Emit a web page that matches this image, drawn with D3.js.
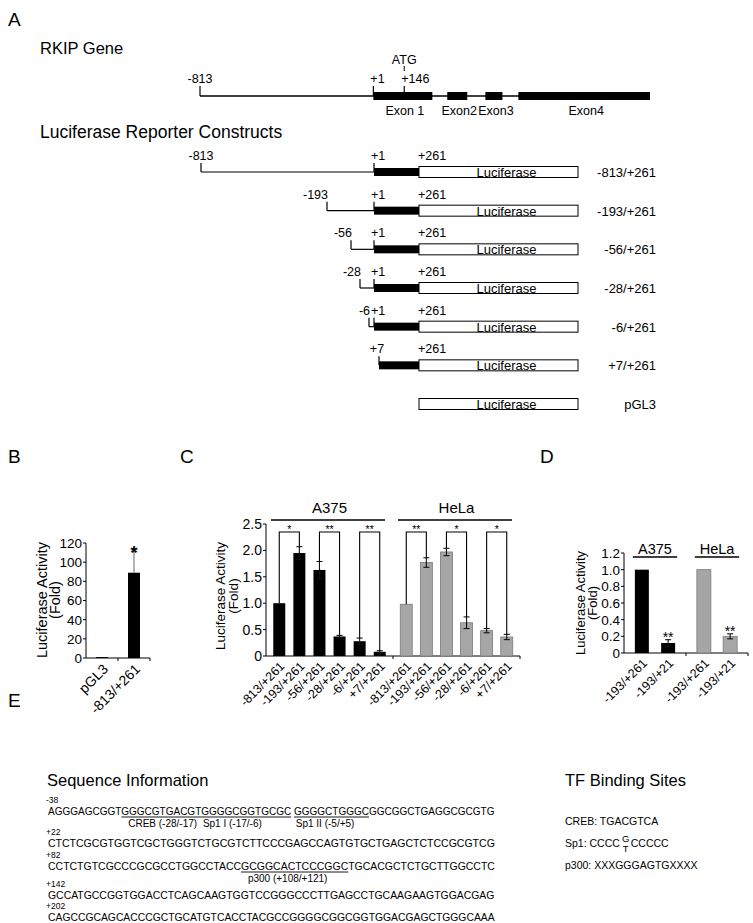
<!DOCTYPE html>
<html><head><meta charset="utf-8">
<script src="https://cdn.jsdelivr.net/npm/d3@7"></script>
<style>body{margin:0;background:#fff} svg{display:block;font-family:"Liberation Sans",Arial,sans-serif}</style>
</head><body><div id="chart"></div>
<script>
// ---------------- DATA ----------------
const geneExons = [
  {name:"Exon 1", start:1, end:278},
  {name:"Exon2", start:348, end:442},
  {name:"Exon3", start:527, end:607},
  {name:"Exon4", start:682, end:1300}
];
const geneMarks = [{label:"-813", pos:-813}, {label:"+1", pos:1}, {label:"+146", pos:146}];
const atgPos = 146;
const constructStarts = [-813, -193, -56, -28, -6, 7, null];
const constructNames = ["-813/+261","-193/+261","-56/+261","-28/+261","-6/+261","+7/+261","pGL3"];
const constructEnd = 261;
const luciferaseLength = 1650;

const bCategories = ["pGL3", "-813/+261"];
const bValues = [1, 89];
const bErrors = [0, 22];
const bSig = ["", "*"];
const bTicks = [0, 20, 40, 60, 80, 100, 120];

const cCategories = ["-813/+261","-193/+261","-56/+261","-28/+261","-6/+261","+7/+261"];
const cGroups = ["A375", "HeLa"];
const cA375 = [1.0, 1.95, 1.63, 0.37, 0.28, 0.08];
const cA375Err = [0, 0.12, 0.16, 0.02, 0.06, 0.02];
const cHeLa = [0.98, 1.77, 1.97, 0.63, 0.48, 0.36];
const cHeLaErr = [0, 0.09, 0.07, 0.11, 0.04, 0.05];
const cBrackets = [[0,1],[2,3],[4,5]];
const cSigA375 = ["*", "**", "**"];
const cSigHeLa = ["**", "*", "*"];
const cTicks = [0, 0.5, 1.0, 1.5, 2.0, 2.5];
const cTickLabels = ["0", "0.5", "1.0", "1.5", "2.0", "2.5"];

const dCategories = ["-193/+261", "-193/+21"];
const dGroups = ["A375", "HeLa"];
const dA375 = [1.0, 0.12];
const dA375Err = [0, 0.04];
const dHeLa = [1.0, 0.20];
const dHeLaErr = [0, 0.03];
const dSig = ["", "**"];
const dTicks = [0, 0.2, 0.4, 0.6, 0.8, 1.0, 1.2];
const dTickLabels = ["0", "0.2", "0.4", "0.6", "0.8", "1.0", "1.2"];

const seqStarts = ["-38", "+22", "+82", "+142", "+202"];
const seqLines = [
  "AGGGAGCGGTGGGCGTGACGTGGGGCGGTGCGC GGGGCTGGGCGGCGGCTGAGGCGCGTG",
  "CTCTCGCGTGGTCGCTGGGTCTGCGTCTTCCCGAGCCAGTGTGCTGAGCTCTCCGCGTCG",
  "CCTCTGTCGCCCGCGCCTGGCCTACCGCGGCACTCCCGGCTGCACGCTCTGCTTGGCCTC",
  "GCCATGCCGGTGGACCTCAGCAAGTGGTCCGGGCCCTTGAGCCTGCAAGAAGTGGACGAG",
  "CAGCCGCAGCACCCGCTGCATGTCACCTACGCCGGGGCGGCGGTGGACGAGCTGGGCAAA"
];
// underlined stretches: line index, first char, end char (exclusive)
const seqUnderlines = [{line:0, from:10, to:33}, {line:0, from:34, to:44}, {line:2, from:26, to:40}];
// site labels: line index, char centre, text
const seqSiteLabels = [
  {line:0, at:15.5, text:"CREB (-28/-17)"},
  {line:0, at:25, text:"Sp1 I (-17/-6)"},
  {line:0, at:38, text:"Sp1 II (-5/+5)"},
  {line:2, at:32, text:"p300 (+108/+121)"}
];
const tfSites = [
  {name:"CREB", seq:"TGACGTCA"},
  {name:"Sp1", seq:["CCCC ", "G", "T", "CCCCC"]},
  {name:"p300", seq:"XXXGGGAGTGXXXX"}
];

// ---------------- DRAWING ----------------
const W = 753, H = 923;
const svg = d3.select("#chart").append("svg").attr("width", W).attr("height", H);
svg.append("rect").attr("width", W).attr("height", H).attr("fill", "#fff");
const txt = (x, y, s, size, anchor) => svg.append("text").attr("x", x).attr("y", y)
  .attr("font-size", size).attr("text-anchor", anchor || "start").attr("fill", "#000").text(s);

// panel letters
[["A",8,26],["B",8,463],["C",180,463],["D",540,463],["E",8,707]].forEach(p => txt(p[1], p[2], p[0], 19));

// ---- Panel A: gene ----
txt(40, 54, "RKIP Gene", 16.5);
const gx = d3.scaleLinear().domain([-813, 1300]).range([200, 650]);
const gy = 96;
svg.append("line").attr("x1", gx(-813)).attr("x2", gx(1300)).attr("y1", gy).attr("y2", gy).attr("stroke", "#000").attr("stroke-width", 1.3);
svg.selectAll(".exon").data(geneExons).enter().append("rect")
  .attr("x", d => gx(d.start)).attr("width", d => gx(d.end) - gx(d.start))
  .attr("y", gy - 4).attr("height", 8).attr("fill", "#000");
svg.selectAll(".exonlab").data(geneExons).enter().append("text")
  .attr("x", d => (gx(d.start) + gx(d.end)) / 2 + 2).attr("y", gy + 19).attr("font-size", 12.5)
  .attr("text-anchor", "middle").text(d => d.name);
geneMarks.forEach(m => {
  svg.append("line").attr("x1", gx(m.pos)).attr("x2", gx(m.pos)).attr("y1", gy - 10).attr("y2", gy).attr("stroke", "#000").attr("stroke-width", 1.2);
  const anchor = m.pos === -813 ? "middle" : "start";
  txt(gx(m.pos) + (m.pos === -813 ? 0 : -3), gy - 13, m.label, 12.5, anchor);
});
svg.append("line").attr("x1", gx(atgPos)).attr("x2", gx(atgPos)).attr("y1", gy - 25).attr("y2", gy - 30).attr("stroke", "#000");
txt(gx(atgPos), gy - 32, "ATG", 12.5, "middle");

// ---- Panel A: constructs ----
txt(40, 138, "Luciferase Reporter Constructs", 17.5);
const kx = d3.scaleLinear()
  .domain([-813, -193, -56, -28, -6, 1, 7, constructEnd, constructEnd + luciferaseLength])
  .range([201, 327, 351, 360, 369, 374, 379, 419, 578]);
const ky = d3.scalePoint().domain(constructNames).range([172, 404]);
constructNames.forEach((name, i) => {
  const s = constructStarts[i], y = ky(name);
  const g = svg.append("g");
  const vline = (x, y1, y2) => g.append("line").attr("x1", x).attr("x2", x).attr("y1", y1).attr("y2", y2).attr("stroke", "#000").attr("stroke-width", 1.2);
  if (s !== null) {
    if (s < 1) {
      g.append("line").attr("x1", kx(s)).attr("x2", kx(1)).attr("y1", y).attr("y2", y).attr("stroke", "#000").attr("stroke-width", 1.2);
      vline(kx(s), y - 9, y);
      vline(kx(1), y - 9, y);
      g.append("rect").attr("x", kx(1)).attr("width", kx(constructEnd) - kx(1)).attr("y", y - 4).attr("height", 8).attr("fill", "#000");
      if (s === -813) txt(kx(s), y - 12, "-813", 12.5, "middle");
      else txt(kx(s) + 1, y - 12, String(s), 12.5, "end");
      txt(kx(1) - 3, y - 12, "+1", 12.5, "start");
    } else {
      vline(kx(s), y - 9, y);
      g.append("rect").attr("x", kx(s)).attr("width", kx(constructEnd) - kx(s)).attr("y", y - 4).attr("height", 8).attr("fill", "#000");
      txt(kx(s) - 2, y - 12, "+" + s, 12.5, "middle");
    }
    txt(kx(constructEnd) - 1, y - 12, "+" + constructEnd, 12.5, "start");
  }
  g.append("rect").attr("x", kx(constructEnd)).attr("width", kx(constructEnd + luciferaseLength) - kx(constructEnd))
    .attr("y", y - 5.5).attr("height", 11).attr("fill", "#fff").attr("stroke", "#000").attr("stroke-width", 1);
  txt((kx(constructEnd) + kx(constructEnd + luciferaseLength)) / 2 + 8, y + 5, "Luciferase", 13, "middle");
  txt(656, y + 5, name, 13, "end");
});

// ---- helpers for bar panels ----
function yAxis(yScale, x, ticks, labels, fs) {
  svg.append("line").attr("x1", x).attr("x2", x).attr("y1", yScale(ticks[ticks.length - 1])).attr("y2", yScale(0)).attr("stroke", "#000");
  ticks.forEach((t, i) => {
    svg.append("line").attr("x1", x - 3).attr("x2", x).attr("y1", yScale(t)).attr("y2", yScale(t)).attr("stroke", "#000");
    txt(x - 4, yScale(t) + fs * 0.36, labels[i], fs, "end");
  });
}
function yTitle(cx, cy, fs, gap) {
  const t = svg.append("text").attr("transform", `translate(${cx},${cy}) rotate(-90)`).attr("font-size", fs).attr("text-anchor", "middle");
  t.append("tspan").attr("x", 0).attr("y", 0).text("Luciferase Activity");
  t.append("tspan").attr("x", 0).attr("y", gap).text("(Fold)");
}
function xLabel(x, y, s, fs) {
  svg.append("text").attr("transform", `translate(${x},${y}) rotate(-45)`).attr("font-size", fs).attr("text-anchor", "end").text(s);
}
function errBar(x, y0, y1, cap, color) {
  const g = svg.append("g").attr("stroke", color).attr("stroke-width", 1.1);
  g.append("line").attr("x1", x).attr("x2", x).attr("y1", y1).attr("y2", y0);
  g.append("line").attr("x1", x - cap).attr("x2", x + cap).attr("y1", y1).attr("y2", y1);
  return g;
}

// ---- Panel B ----
{
  const y = d3.scaleLinear().domain([0, 120]).range([658, 543]);
  const x = d3.scalePoint().domain(bCategories).range([86, 150]).padding(0.5);
  const bw = 12;
  svg.append("line").attr("x1", 86).attr("x2", 150).attr("y1", y(0)).attr("y2", y(0)).attr("stroke", "#000");
  [118, 150].forEach(sx => svg.append("line").attr("x1", sx).attr("x2", sx).attr("y1", y(0)).attr("y2", y(0) + 3).attr("stroke", "#000"));
  bCategories.forEach((c, i) => {
    svg.append("rect").attr("x", x(c) - bw / 2).attr("width", bw).attr("y", y(bValues[i])).attr("height", y(0) - y(bValues[i])).attr("fill", "#000");
    if (bErrors[i] > 0) errBar(x(c), y(bValues[i]), y(bValues[i] + bErrors[i]), 3, "#777");
    if (bSig[i]) txt(x(c), y(bValues[i] + bErrors[i]) + 7, bSig[i], 18, "middle").attr("font-weight", "bold");
    xLabel(x(c) + 7, y(0) + 12, c, 14);
  });
  yAxis(y, 86, bTicks, bTicks.map(String), 13.5);
  yTitle(47, 600, 14.5, 13);
}

// ---- Panel C ----
{
  const y = d3.scaleLinear().domain([0, 2.5]).range([656, 524]);
  const gxs = d3.scaleBand().domain(cGroups).range([266, 520]);
  const ix = d3.scalePoint().domain(cCategories).range([0, gxs.bandwidth()]).padding(0.66);
  const bw = 12;
  svg.append("line").attr("x1", 266).attr("x2", 520).attr("y1", y(0)).attr("y2", y(0)).attr("stroke", "#000");
  cGroups.forEach(gname => {
    const gx0 = gxs(gname);
    const vals = gname === "A375" ? cA375 : cHeLa;
    const errs = gname === "A375" ? cA375Err : cHeLaErr;
    const sig = gname === "A375" ? cSigA375 : cSigHeLa;
    const fill = gname === "A375" ? "#000" : "#a6a6a6";
    svg.append("line").attr("x1", gx0 + gxs.bandwidth()).attr("x2", gx0 + gxs.bandwidth()).attr("y1", y(0)).attr("y2", y(0) + 3).attr("stroke", "#000");
    cCategories.forEach((c, i) => {
      const cx = gx0 + ix(c);
      svg.append("rect").attr("x", cx - bw / 2).attr("width", bw).attr("y", y(vals[i])).attr("height", y(0) - y(vals[i]))
        .attr("fill", fill).attr("stroke", gname === "A375" ? "none" : "#7a7a7a").attr("stroke-width", 0.8);
      if (errs[i] > 0) {
        const g = svg.append("g").attr("stroke", "#111").attr("stroke-width", 1.1);
        g.append("line").attr("x1", cx).attr("x2", cx).attr("y1", y(vals[i] - errs[i])).attr("y2", y(vals[i] + errs[i]));
        [vals[i] - errs[i], vals[i] + errs[i]].forEach(v => g.append("line").attr("x1", cx - 3).attr("x2", cx + 3).attr("y1", y(v)).attr("y2", y(v)));
      }
      xLabel(cx + 6, y(0) + 11, c, 12.5);
    });
    const top = 532;
    cBrackets.forEach((b, k) => {
      const xa = gx0 + ix(cCategories[b[0]]), xb = gx0 + ix(cCategories[b[1]]);
      const ya = y(vals[b[0]] + errs[b[0]]), yb = y(vals[b[1]] + errs[b[1]]);
      svg.append("path").attr("d", `M${xa},${ya} V${top} H${xb} V${yb}`).attr("fill", "none").attr("stroke", "#000").attr("stroke-width", 1.1);
      txt((xa + xb) / 2, top + 1, sig[k], 10.5, "middle");
    });
    svg.append("line").attr("x1", gx0 + 5).attr("x2", gx0 + gxs.bandwidth() - 8).attr("y1", 520).attr("y2", 520).attr("stroke", "#000").attr("stroke-width", 1.6);
    txt(gx0 + gxs.bandwidth() / 2, 513, gname, 15, "middle");
  });
  yAxis(y, 266, cTicks, cTickLabels, 14);
  yTitle(225, 596, 13.5, 12.5);
}

// ---- Panel D ----
{
  const y = d3.scaleLinear().domain([0, 1.2]).range([653, 553]);
  const gxs = d3.scaleBand().domain(dGroups).range([624, 748]);
  const ix = d3.scalePoint().domain(dCategories).range([0, gxs.bandwidth()]).padding(0.68);
  const bw = 14;
  svg.append("line").attr("x1", 624).attr("x2", 748).attr("y1", y(0)).attr("y2", y(0)).attr("stroke", "#000");
  dGroups.forEach(gname => {
    const gx0 = gxs(gname);
    const vals = gname === "A375" ? dA375 : dHeLa;
    const errs = gname === "A375" ? dA375Err : dHeLaErr;
    const fill = gname === "A375" ? "#000" : "#a6a6a6";
    svg.append("line").attr("x1", gx0 + gxs.bandwidth()).attr("x2", gx0 + gxs.bandwidth()).attr("y1", y(0)).attr("y2", y(0) + 3).attr("stroke", "#000");
    dCategories.forEach((c, i) => {
      const cx = gx0 + ix(c);
      svg.append("rect").attr("x", cx - bw / 2).attr("width", bw).attr("y", y(vals[i])).attr("height", y(0) - y(vals[i]))
        .attr("fill", fill).attr("stroke", gname === "A375" ? "none" : "#7a7a7a").attr("stroke-width", 0.8);
      if (errs[i] > 0) {
        const g = svg.append("g").attr("stroke", "#111").attr("stroke-width", 1.1);
        g.append("line").attr("x1", cx).attr("x2", cx).attr("y1", y(vals[i] - errs[i])).attr("y2", y(vals[i] + errs[i]));
        [vals[i] - errs[i], vals[i] + errs[i]].forEach(v => g.append("line").attr("x1", cx - 3).attr("x2", cx + 3).attr("y1", y(v)).attr("y2", y(v)));
      }
      if (dSig[i]) txt(cx, y(vals[i] + errs[i]) + 2, dSig[i], 14, "middle");
      xLabel(cx + 6, y(0) + 11, c, 12.5);
    });
    const bx0 = gx0 + ix(dCategories[0]) - bw / 2 - 2, bx1 = gx0 + ix(dCategories[1]) + bw / 2 + 2;
    svg.append("line").attr("x1", bx0).attr("x2", bx1).attr("y1", 557).attr("y2", 557).attr("stroke", "#000").attr("stroke-width", 1.6);
    txt((bx0 + bx1) / 2, 554, gname, 14.5, "middle");
  });
  yAxis(y, 624, dTicks, dTickLabels, 13.5);
  yTitle(585, 603, 13, 12);
}

// ---- Panel E ----
txt(47, 786, "Sequence Information", 16.5);
txt(565, 786, "TF Binding Sites", 16.5);
const seqBase = [815, 847, 870, 899, 921];
const seqWidth = 447, seqX = 48;
seqLines.forEach((s, li) => {
  txt(seqX - 2, seqBase[li] - 12.3, seqStarts[li], 8.5);
  const g = svg.append("g");
  const t = g.append("text").attr("font-size", 11.5).attr("font-family", '"Liberation Sans Narrow","Liberation Sans",Arial,sans-serif').style("white-space", "pre").text(s);
  const natural = t.node().getComputedTextLength();
  const sx = seqWidth / natural;
  g.attr("transform", `translate(${seqX},${seqBase[li]}) scale(${sx},1)`);
  const pos = i => t.node().getSubStringLength(0, i);
  seqUnderlines.filter(u => u.line === li).forEach(u => {
    g.append("line").attr("x1", pos(u.from)).attr("x2", pos(u.to)).attr("y1", 2).attr("y2", 2).attr("stroke", "#000").attr("stroke-width", 0.9).attr("vector-effect", "non-scaling-stroke");
  });
  seqSiteLabels.filter(l => l.line === li).forEach(l => {
    const f = Math.floor(l.at);
    const cxp = seqX + sx * (pos(f) + (l.at - f) * (pos(f + 1) - pos(f)));
    txt(cxp, seqBase[li] + 12, l.text, 10, "middle");
  });
});
const tfY = d3.scalePoint().domain(tfSites.map(d => d.name)).range([825, 869]);
tfSites.forEach(d => {
  const y = tfY(d.name);
  if (typeof d.seq === "string") {
    txt(565, y, d.name + ": " + d.seq, 10.5);
  } else {
    const t1 = txt(565, y, d.name + ": " + d.seq[0], 10.5).style("white-space", "pre");
    const w = t1.node().getComputedTextLength();
    txt(565 + w + 3, y - 5, d.seq[1], 9.5, "middle");
    txt(565 + w + 3, y + 5, d.seq[2], 9.5, "middle");
    txt(565 + w + 8, y, d.seq[3], 10.5);
  }
});
</script></body></html>
